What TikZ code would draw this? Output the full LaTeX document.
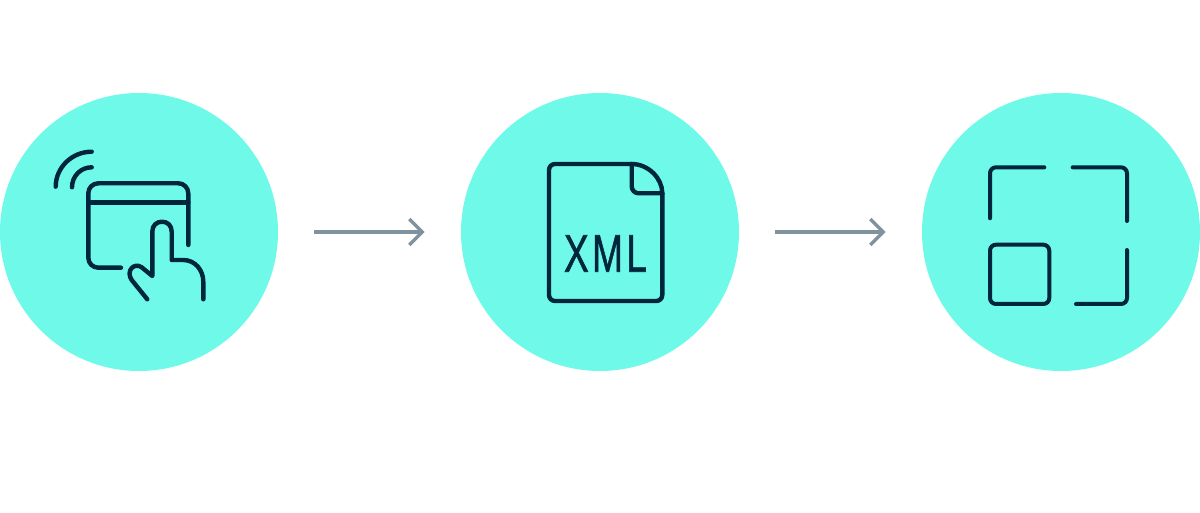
\documentclass[tikz,border=0pt]{standalone}
\usepackage{fontspec}
\setmainfont{Liberation Sans}
\newfontfamily\xmlfont[LetterSpace=9,FakeBold=1.2]{Liberation Sans}
\usetikzlibrary{arrows.meta}
\definecolor{disc}{HTML}{6FF9E8}
\definecolor{ink}{HTML}{00263E}
\definecolor{flow}{HTML}{7F929E}
\tikzset{
  disk/.style={circle,fill=disc,minimum size=278bp,inner sep=0pt,outer sep=0pt},
  icon/.style={draw=ink,line width=4.4bp,line cap=round,line join=round},
  thin icon/.style={draw=ink,line width=4bp,line cap=round,line join=round},
  flowline/.style={draw=flow,line width=3.4bp,shorten <=36.3bp,shorten >=36.3bp,
    -{Straight Barb[length=13bp,width=26bp,line width=3.4bp]}}
}
\begin{document}
\begin{tikzpicture}[x=1bp,y=-1bp]
\useasboundingbox (0,0) rectangle (1200,513);
\node[disk] (c1) at (139,232) {};
\node[disk] (c2) at (600,232) {};
\node[disk] (c3) at (1061,232) {};
\draw[flowline] (c1) -- (c2);
\draw[flowline] (c2) -- (c3);
% touch-screen icon
\draw[icon] (55.7,186.7) .. controls (55.7,167.4) and (72,151.7) .. (91.7,151.7);
\draw[icon] (72,187.3) .. controls (72,176.2) and (80.6,167.3) .. (91.7,167.3);
\draw[icon,rounded corners=10bp] (121,267.7) -- (88.3,267.7) -- (88.3,183.3) -- (188.3,183.3) -- (188.3,245);
\draw[icon] (88.3,202.7) -- (188.3,202.7);
\draw[icon] (203.3,299.3) -- (203.3,281.7)
  .. controls (203.3,270) and (195,260) .. (183.3,260)
  -- (171.7,260) -- (171.7,231.7)
  .. controls (171.7,225.5) and (167.5,221.7) .. (162,221.7)
  .. controls (156.5,221.7) and (152.3,225.5) .. (152.3,231.7)
  -- (152.3,276) -- (141.7,267.3)
  .. controls (134,262) and (125.5,271) .. (131.7,280)
  -- (147.3,299.3);
% XML file icon
\draw[icon,rounded corners=6bp] (631.7,164) -- (549,164) -- (549,301) -- (662.3,301) -- (662.3,193.3);
\draw[icon] (631.7,164) .. controls (648,164) and (662.3,178) .. (662.3,193.3);
\draw[icon,rounded corners=7bp] (631.7,164) -- (631.7,193.3) -- (662.3,193.3);
\node[inner sep=0pt,text=ink,font=\xmlfont\fontsize{53bp}{54bp}\selectfont,xscale=.7] (xml) at (605.5,253.5) {XML};
% frame icon
\draw[thin icon,rounded corners=6bp] (990,218.3) -- (990,167.3) -- (1044.3,167.3);
\draw[thin icon,rounded corners=6bp] (1072.7,167.3) -- (1127,167.3) -- (1127,221);
\draw[thin icon,rounded corners=6bp] (1127,250) -- (1127,304) -- (1076,304);
\draw[thin icon,rounded corners=6bp] (990,244.7) rectangle (1049.3,304);
\end{tikzpicture}
\end{document}
